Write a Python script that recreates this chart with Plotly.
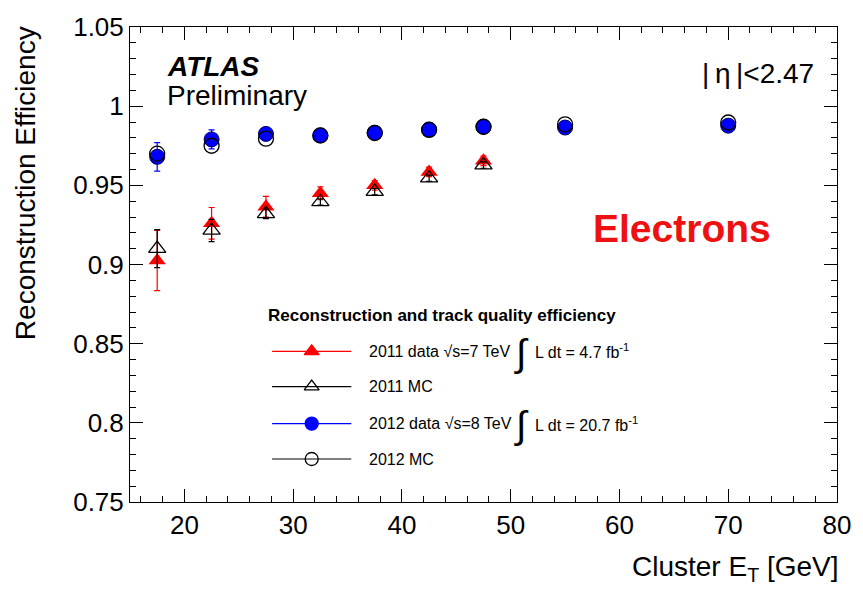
import plotly.graph_objects as go

# ---- data ----
et_2011 = [17.5, 22.5, 27.5, 32.5, 37.5, 42.5, 47.5]
data_2011 = [0.9025, 0.926, 0.9365, 0.945, 0.950, 0.9585, 0.9655]
data_2011_err = [0.019, 0.010, 0.0065, 0.004, 0.003, 0.003, 0.003]
mc_2011 = [0.910, 0.9215, 0.932, 0.9395, 0.946, 0.9545, 0.9628]
mc_2011_err = [0.012, 0.007, 0.003, 0.002, 0.002, 0.002, 0.002]

et_2012 = [17.5, 22.5, 27.5, 32.5, 37.5, 42.5, 47.5, 55, 70]
data_2012 = [0.968, 0.979, 0.9825, 0.9815, 0.9833, 0.9853, 0.987, 0.9865, 0.9877]
data_2012_err = [0.009, 0.006, 0.002, 0.001, 0.001, 0.001, 0.001, 0.001, 0.001]
mc_2012 = [0.970, 0.975, 0.9795, 0.9815, 0.983, 0.985, 0.987, 0.9885, 0.9897]

FONT = "Liberation Sans"
fig = go.Figure()

fig.add_trace(go.Scatter(x=et_2011, y=data_2011, mode="markers",
    marker=dict(symbol="triangle-up", size=15, color="red"),
    error_y=dict(type="data", array=data_2011_err, color="red", thickness=1.2, width=3),
    showlegend=False))
fig.add_trace(go.Scatter(x=et_2011, y=mc_2011, mode="markers",
    marker=dict(symbol="triangle-up-open", size=15, color="black", line=dict(width=1.3)),
    error_y=dict(type="data", array=mc_2011_err, color="black", thickness=1.2, width=3),
    showlegend=False))
fig.add_trace(go.Scatter(x=et_2012, y=data_2012, mode="markers",
    marker=dict(symbol="circle", size=15, color="blue", line=dict(width=1, color="#000060")),
    error_y=dict(type="data", array=data_2012_err, color="blue", thickness=1.2, width=3),
    showlegend=False))
fig.add_trace(go.Scatter(x=et_2012, y=mc_2012, mode="markers",
    marker=dict(symbol="circle-open", size=15, color="black", line=dict(width=1.3)),
    showlegend=False))

# ---- custom legend (in overlay fraction coordinates) ----
leg_rows = [0.317, 0.243, 0.165, 0.0905]
leg_colors = ["red", "black", "blue", "black"]
leg_symbols = ["triangle-up", "triangle-up-open", "circle", "circle-open"]
for yy, c, s in zip(leg_rows, leg_colors, leg_symbols):
    fig.add_trace(go.Scatter(x=[0.201, 0.313], y=[yy, yy], mode="lines",
        line=dict(color=c, width=1.2), xaxis="x2", yaxis="y2", showlegend=False,
        hoverinfo="skip"))
    fig.add_trace(go.Scatter(x=[0.257], y=[yy], mode="markers",
        marker=dict(symbol=s, size=13, color=c, line=dict(width=1.3, color=c)),
        xaxis="x2", yaxis="y2", showlegend=False, hoverinfo="skip"))

ann = []
def A(text, x, y, size, xanchor="left", color="black", **kw):
    ann.append(dict(text=text, x=x, y=y, xref="paper", yref="paper", showarrow=False,
                    xanchor=xanchor, yanchor="middle", font=dict(family=FONT, size=size, color=color), **kw))

A("<b>Reconstruction and track quality efficiency</b>", 0.193, 0.393, 17)
A("2011 data √s=7 TeV", 0.335, leg_rows[0], 16)
A("∫", 0.554, leg_rows[0] - 0.004, 38, xanchor="center")
A("L dt = 4.7 fb<sup>-1</sup>", 0.570, leg_rows[0], 16)
A("2011 MC", 0.335, leg_rows[1], 16)
A("2012 data √s=8 TeV", 0.335, leg_rows[2], 16)
A("∫", 0.554, leg_rows[2] - 0.004, 38, xanchor="center")
A("L dt = 20.7 fb<sup>-1</sup>", 0.570, leg_rows[2], 16)
A("2012 MC", 0.335, leg_rows[3], 16)

A("<b><i>ATLAS</i></b>", 0.050, 0.916, 28)
A("Preliminary", 0.050, 0.855, 28)
A("|\u2009η\u2009|<2.47", 0.971, 0.903, 28, xanchor="right")
A("<b>Electrons</b>", 0.781, 0.576, 39, xanchor="center", color="#ee1111")
A("Reconstruction Efficiency", -0.148, 0.672, 28, xanchor="center", textangle=-90)
A("Cluster E<sub>T</sub> [GeV]", 1.005, -0.14, 28, xanchor="right")

axis_common = dict(showgrid=False, zeroline=False, showline=True, linecolor="black",
                   linewidth=1, mirror="ticks", ticks="inside", tickcolor="black",
                   ticklabeloverflow="allow",
                   tickfont=dict(family=FONT, size=26, color="black"))

fig.update_layout(
    width=863, height=591,
    margin=dict(l=130, r=17, t=16, b=89),
    paper_bgcolor="white", plot_bgcolor="white",
    font=dict(family=FONT, color="black"),
    xaxis=dict(range=[15, 80], dtick=10, tick0=0, ticklen=13,
               minor=dict(dtick=2, ticks="inside", ticklen=6, tickcolor="black", showgrid=False),
               **axis_common),
    yaxis=dict(range=[0.75, 1.05], dtick=0.05, tick0=0.75, ticklen=13,
               minor=dict(dtick=0.01, ticks="inside", ticklen=6, tickcolor="black", showgrid=False),
               **axis_common),
    xaxis2=dict(range=[0, 1], overlaying="x", visible=False, fixedrange=True),
    yaxis2=dict(range=[0, 1], overlaying="y", visible=False, fixedrange=True),
    annotations=ann,
)

fig.write_html("out.html")
